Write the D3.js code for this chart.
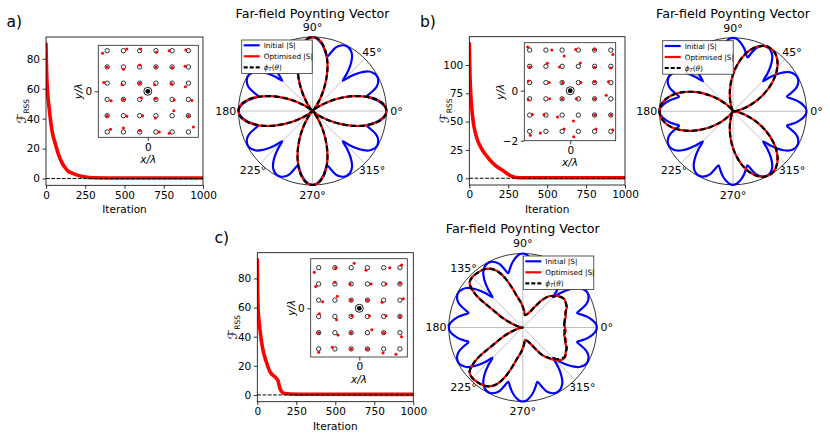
<!DOCTYPE html>
<html><head><meta charset="utf-8">
<script src="https://cdn.jsdelivr.net/npm/d3@7"></script>
<style>
body{margin:0;background:#fff;}
svg{display:block;font-family:"DejaVu Sans",sans-serif;}
</style></head>
<body><svg id="fig" width="830" height="436"></svg>
<script>
// ---------------- DATA ----------------
const xTicksLoss = [0,250,500,750,1000];
const yTicksA = [0,20,40,60,80];
const yTicksB = [0,25,50,75,100];
const yTicksC = [0,20,40,60,80];

const iterA = [0,2,5,10,20,30,40,60,80,100,120,140,170,200,250,300,400,1000];
const lossA = [90,80,68,58,47,38,31,23,16,11,7.5,5,3.5,2.3,1.0,0.5,0.4,0.4];
const iterB = [0,2,5,10,15,25,45,75,110,150,190,220,240,260,280,300,350,1000];
const lossB = [119,105,88,73,63,50,37,27,20,13.5,9,6.5,4.5,2.7,1.4,0.7,0.4,0.4];
const iterC = [0,2,5,10,17,25,38,60,81,100,113,125,132,138,145,156,177,250,1000];
const lossC = [93,75,60,52,45,38,30,22,16,13.5,12.5,11,10,7.5,4.5,2.3,1.0,0.5,0.4];

// lattice (x/λ, y/λ)
const latticeCoords = [-1.625,-0.975,-0.325,0.325,0.975,1.625];
const sourcePos = [0,0];
const optPosA = [[-1.81,1.52],[-0.84,1.69],[-0.29,1.69],[0.35,1.56],[0.855,1.625],[1.52,1.65],
 [-1.625,0.975],[-0.975,0.88],[-0.325,1.055],[0.325,0.975],[0.975,0.95],[1.49,1.0],
 [-1.76,0.35],[-1.03,0.26],[-0.325,0.325],[0.27,0.26],[0.95,0.30],[1.505,0.18],
 [-1.465,-0.38],[-0.975,-0.325],[-0.26,-0.26],[0.30,-0.30],[1.055,-0.35],[1.76,-0.365],
 [-1.625,-0.975],[-0.84,-1.0],[-0.205,-0.975],[0.30,-1.07],[1.04,-0.775],[1.625,-0.975],
 [-1.49,-1.52],[-0.975,-1.465],[-0.325,-1.57],[0.46,-1.625],[0.855,-1.675],[1.825,-1.425]];
const optPosB = [[-1.705,1.745],[-0.735,1.625],[-0.245,1.385],[0.22,1.65],[0.975,1.65],[1.705,1.45],
 [-1.625,0.95],[-0.92,1.095],[-0.43,0.95],[0.405,1.108],[0.975,0.935],[1.625,0.91],
 [-1.68,0.39],[-0.84,0.325],[-0.31,0.325],[0.42,0.325],[0.975,0.36],[1.53,0.36],
 [-1.68,-0.36],[-0.83,-0.325],[-0.325,-0.325],[0.245,-0.325],[0.975,-0.325],[1.44,-0.18],
 [-1.52,-0.95],[-1.055,-0.96],[-0.51,-1.055],[0.125,-1.215],[0.975,-0.975],[1.625,-0.975],
 [-1.60,-1.785],[-1.2,-1.69],[-0.245,-1.53],[0.14,-1.84],[1.03,-1.53],[1.705,-1.57]];
const optPosC = [[-1.80,1.44],[-0.95,1.625],[-0.205,1.80],[0.27,1.52],[1.215,1.625],[1.69,1.73],
 [-1.745,0.87],[-0.975,1.04],[-0.365,0.975],[0.47,0.975],[1.07,0.975],[1.625,1.0],
 [-1.465,0.26],[-0.88,0.485],[-0.325,0.325],[0.325,0.325],[0.91,0.245],[1.76,0.38],
 [-1.6,-0.22],[-0.91,-0.46],[-0.3,-0.3],[0.405,-0.3],[1.07,-0.3],[1.625,-0.325],
 [-1.625,-0.975],[-0.855,-1.07],[-0.325,-0.975],[0.5,-0.855],[0.975,-0.975],[1.69,-1.135],
 [-1.625,-1.76],[-1.08,-1.56],[-0.325,-1.625],[0.325,-1.625],[0.95,-1.785],[1.465,-1.84]];

// polar angle labels
const polarTickAngles = [0,45,90,135,180,225,270,315];
const polarTickLabels = ["0°","45°","90°","135°","180°","225°","270°","315°"];
const legendLabels = ["Initial |S|","Optimised |S|","phiT"];

// Initial |S| (normalised), every 2.5°
const initialS = [
1.00,0.99,0.96,0.92,0.87,0.81,0.76,0.83,0.91,0.955,0.98,0.99,0.985,0.965,0.93,0.87,0.79,0.69,0.58,0.69,0.79,0.87,0.93,0.965,0.985,0.99,0.98,0.955,0.91,0.83,0.76,0.81,0.87,0.92,0.96,0.99,
1.00,0.99,0.96,0.92,0.87,0.81,0.76,0.83,0.91,0.955,0.98,0.99,0.985,0.965,0.93,0.87,0.79,0.69,0.58,0.69,0.79,0.87,0.93,0.965,0.985,0.99,0.98,0.955,0.91,0.83,0.76,0.81,0.87,0.92,0.96,0.99,
1.00,0.99,0.96,0.92,0.87,0.81,0.76,0.83,0.91,0.955,0.98,0.99,0.985,0.965,0.93,0.87,0.79,0.69,0.58,0.69,0.79,0.87,0.93,0.965,0.985,0.99,0.98,0.955,0.91,0.83,0.76,0.81,0.87,0.92,0.96,0.99,
1.00,0.99,0.96,0.92,0.87,0.81,0.76,0.83,0.91,0.955,0.98,0.99,0.985,0.965,0.93,0.87,0.79,0.69,0.58,0.69,0.79,0.87,0.93,0.965,0.985,0.99,0.98,0.955,0.91,0.83,0.76,0.81,0.87,0.92,0.96,0.99];

// targets & optimised, every 5°
const targetA = [
1,0.97,0.883,0.75,0.587,0.413,0.25,0.117,0.03,0,0.03,0.117,0.25,0.413,0.587,0.75,0.883,0.97,
1,0.97,0.883,0.75,0.587,0.413,0.25,0.117,0.03,0,0.03,0.117,0.25,0.413,0.587,0.75,0.883,0.97,
1,0.97,0.883,0.75,0.587,0.413,0.25,0.117,0.03,0,0.03,0.117,0.25,0.413,0.587,0.75,0.883,0.97,
1,0.97,0.883,0.75,0.587,0.413,0.25,0.117,0.03,0,0.03,0.117,0.25,0.413,0.587,0.75,0.883,0.97];
const optA = [
1,0.97,0.885,0.75,0.585,0.415,0.25,0.115,0.03,0,0.03,0.118,0.25,0.41,0.59,0.75,0.88,0.97,
0.995,0.97,0.885,0.752,0.587,0.413,0.248,0.117,0.03,0,0.03,0.117,0.25,0.413,0.587,0.75,0.885,0.972,
1,0.97,0.883,0.75,0.588,0.413,0.25,0.117,0.031,0,0.03,0.117,0.25,0.413,0.587,0.75,0.883,0.97,
0.998,0.97,0.883,0.75,0.587,0.413,0.25,0.117,0.03,0,0.03,0.116,0.25,0.413,0.587,0.75,0.883,0.97];
const targetB = [
0,0.017,0.067,0.146,0.25,0.371,0.5,0.629,0.75,0.854,0.933,0.983,1,0.983,0.933,0.854,0.75,0.629,
0.5,0.371,0.25,0.146,0.067,0.017,0,0.017,0.067,0.146,0.25,0.371,0.5,0.629,0.75,0.854,0.933,0.983,
1,0.983,0.933,0.854,0.75,0.629,0.5,0.371,0.25,0.146,0.067,0.017,0,0.017,0.067,0.146,0.25,0.371,
0.5,0.629,0.75,0.854,0.933,0.983,1,0.983,0.933,0.854,0.75,0.629,0.5,0.371,0.25,0.146,0.067,0.017];
const optB = [
0,0.018,0.067,0.146,0.25,0.37,0.5,0.63,0.75,0.855,0.933,0.983,0.995,0.983,0.933,0.854,0.75,0.629,
0.5,0.371,0.25,0.146,0.066,0.017,0,0.017,0.067,0.146,0.25,0.371,0.5,0.629,0.752,0.854,0.933,0.983,
1,0.983,0.933,0.854,0.75,0.629,0.5,0.371,0.25,0.146,0.067,0.017,0,0.017,0.067,0.146,0.25,0.371,
0.5,0.629,0.75,0.854,0.933,0.983,0.998,0.983,0.933,0.854,0.75,0.629,0.5,0.371,0.25,0.146,0.067,0.017];
const targetC = [
0.56,0.565,0.575,0.59,0.62,0.65,0.67,0.675,0.65,0.6,0.55,0.45,0.32,0.24,0.2,0.18,0.17,0.22,
0.28,0.35,0.42,0.55,0.72,0.85,0.92,0.95,0.96,0.965,0.94,0.78,0.45,0.29,0.16,0.08,0.04,0.01,
0,0.01,0.04,0.08,0.16,0.29,0.45,0.78,0.94,0.965,0.96,0.95,0.92,0.85,0.72,0.55,0.42,0.35,
0.28,0.22,0.17,0.18,0.2,0.24,0.32,0.45,0.53,0.6,0.66,0.69,0.67,0.65,0.62,0.59,0.575,0.565];
const optC = [
0.57,0.56,0.58,0.6,0.61,0.66,0.67,0.68,0.65,0.61,0.55,0.45,0.32,0.24,0.2,0.18,0.17,0.22,
0.28,0.35,0.42,0.55,0.72,0.85,0.92,0.95,0.96,0.965,0.94,0.78,0.45,0.29,0.16,0.08,0.04,0.01,
0,0.01,0.04,0.08,0.16,0.29,0.45,0.78,0.94,0.965,0.96,0.95,0.92,0.85,0.72,0.55,0.42,0.35,
0.28,0.22,0.17,0.18,0.2,0.24,0.32,0.45,0.54,0.62,0.68,0.7,0.67,0.66,0.61,0.6,0.565,0.58];

// ---------------- DRAWING ----------------
const svg = d3.select('#fig');
const FONT = 'DejaVu Sans';
const fmtInt = d3.format('d');

function styleAxis(sel, fs){
  sel.attr('font-family', FONT).attr('font-size', fs);
  sel.select('.domain').remove();
  sel.selectAll('.tick line').attr('stroke','#000').attr('stroke-width',0.8);
  sel.selectAll('.tick text').attr('fill','#000');
}

let clipId = 0;
function lossPanel(box, iters, loss, yTicks, yDom){
  const g = svg.append('g');
  const x = d3.scaleLinear().domain([0,1000]).range([box.l, box.r]);
  const y = d3.scaleLinear().domain(yDom).range([box.b, box.t]);
  const cid = 'clip'+(clipId++);
  svg.append('clipPath').attr('id',cid).append('rect')
    .attr('x',box.l).attr('y',box.t).attr('width',box.r-box.l).attr('height',box.b-box.t);
  const pts = d3.zip(iters, loss);
  g.append('path').datum(pts)
    .attr('d', d3.line().x(d=>x(d[0])).y(d=>y(d[1])).curve(d3.curveMonotoneX))
    .attr('fill','none').attr('stroke','#ff0000').attr('stroke-width',3.6)
    .attr('stroke-linejoin','round').attr('stroke-linecap','round')
    .attr('clip-path',`url(#${cid})`);
  g.append('line').attr('x1',x(0)).attr('x2',x(1000)).attr('y1',y(0)).attr('y2',y(0))
    .attr('stroke','#000').attr('stroke-width',1).attr('stroke-dasharray','3.7,1.6');
  g.append('g').attr('transform',`translate(0,${box.b})`)
    .call(d3.axisBottom(x).tickValues(xTicksLoss).tickFormat(fmtInt).tickSize(3.5).tickPadding(2.5))
    .call(s=>styleAxis(s,10.5));
  g.append('g').attr('transform',`translate(${box.l},0)`)
    .call(d3.axisLeft(y).tickValues(yTicks).tickFormat(fmtInt).tickSize(3.5).tickPadding(2.5))
    .call(s=>styleAxis(s,10.5));
  g.append('rect').attr('x',box.l).attr('y',box.t).attr('width',box.r-box.l).attr('height',box.b-box.t)
    .attr('fill','none').attr('stroke','#000').attr('stroke-width',0.8);
  g.append('text').attr('x',(box.l+box.r)/2).attr('y',box.b+28).attr('text-anchor','middle')
    .attr('font-size',10.5).attr('font-family',FONT).text('Iteration');
  const lab = g.append('text').attr('transform',`translate(${box.l-20},${(box.t+box.b)/2}) rotate(-90)`)
    .attr('text-anchor','middle').attr('font-family',FONT);
  lab.append('tspan').attr('font-size',12.5).attr('font-style','italic').text('ℱ');
  lab.append('tspan').attr('font-size',7.5).attr('dy',2.5).text('RSS');
  return g;
}

function insetPanel(box, xDom, yDom, yTickVals, opt){
  const g = svg.append('g');
  const x = d3.scaleLinear().domain(xDom).range([box.l, box.r]);
  const y = d3.scaleLinear().domain(yDom).range([box.b, box.t]);
  g.append('rect').attr('x',box.l).attr('y',box.t).attr('width',box.r-box.l).attr('height',box.b-box.t)
    .attr('fill','#fff');
  const lattice = [];
  latticeCoords.slice().reverse().forEach(yy=>latticeCoords.forEach(xx=>lattice.push([xx,yy])));
  g.selectAll('circle.lat').data(lattice).enter().append('circle').attr('class','lat')
    .attr('cx',d=>x(d[0])).attr('cy',d=>y(d[1])).attr('r',2.2)
    .attr('fill','none').attr('stroke','#000').attr('stroke-width',0.8);
  g.selectAll('circle.opt').data(opt).enter().append('circle').attr('class','opt')
    .attr('cx',d=>x(d[0])).attr('cy',d=>y(d[1])).attr('r',1.5).attr('fill','#ff0000');
  g.append('circle').attr('cx',x(sourcePos[0])).attr('cy',y(sourcePos[1])).attr('r',4)
    .attr('fill','none').attr('stroke','#000').attr('stroke-width',0.9);
  g.append('circle').attr('cx',x(sourcePos[0])).attr('cy',y(sourcePos[1])).attr('r',2.4).attr('fill','#000');
  g.append('g').attr('transform',`translate(0,${box.b})`)
    .call(d3.axisBottom(x).tickValues([0]).tickFormat(fmtInt).tickSize(3.5).tickPadding(2.5))
    .call(s=>styleAxis(s,10.5));
  g.append('g').attr('transform',`translate(${box.l},0)`)
    .call(d3.axisLeft(y).tickValues(yTickVals).tickFormat(fmtInt).tickSize(3.5).tickPadding(2.5))
    .call(s=>styleAxis(s,10.5));
  g.append('rect').attr('x',box.l).attr('y',box.t).attr('width',box.r-box.l).attr('height',box.b-box.t)
    .attr('fill','none').attr('stroke','#222').attr('stroke-width',0.8);
  g.append('text').attr('x',(box.l+box.r)/2).attr('y',box.b+25.5).attr('text-anchor','middle')
    .attr('font-size',10.5).attr('font-family',FONT).attr('font-style','italic').text('x/λ');
  g.append('text').attr('transform',`translate(${box.l-box.ylab},${(box.t+box.b)/2}) rotate(-90)`)
    .attr('text-anchor','middle').attr('font-size',10.5).attr('font-family',FONT)
    .attr('font-style','italic').text('y/λ');
}

function polarPanel(c, blue, red, black, leg, title, hidden){
  const g = svg.append('g').attr('transform',`translate(${c.cx},${c.cy})`);
  const rS = d3.scaleLinear().domain([0,1]).range([0,c.R]);
  const toRad = d=>d*Math.PI/180;
  polarTickAngles.forEach((a,i)=>{
    if(hidden.includes(a)) return; // covered by the legend in the reference
    g.append('text').attr('x',(c.R+10)*Math.cos(toRad(a))).attr('y',-(c.R+10)*Math.sin(toRad(a)))
      .attr('text-anchor','middle').attr('dy','0.36em').attr('font-size',11).attr('font-family',FONT)
      .text(polarTickLabels[i]);
  });
  g.append('circle').attr('r',c.R).attr('fill','#fff');
  polarTickAngles.forEach(a=>{
    g.append('line').attr('x1',0).attr('y1',0)
      .attr('x2',rS(1)*Math.cos(toRad(a))).attr('y2',-rS(1)*Math.sin(toRad(a)))
      .attr('stroke','#b0b0b0').attr('stroke-width',0.8);
  });
  g.append('circle').attr('r',c.R).attr('fill','none').attr('stroke','#000').attr('stroke-width',0.8);
  const radial = step => d3.lineRadial()
    .angle((d,i)=>Math.PI/2 - toRad(i*step))
    .radius(d=>rS(d)).curve(d3.curveCatmullRomClosed.alpha(0.5));
  g.append('path').attr('d', radial(2.5)(blue)).attr('fill','none').attr('stroke','#0000ff').attr('stroke-width',2.2);
  g.append('path').attr('d', radial(5)(red)).attr('fill','none').attr('stroke','#ff0000').attr('stroke-width',2.2);
  g.append('path').attr('d', radial(5)(black)).attr('fill','none').attr('stroke','#000').attr('stroke-width',2.2)
    .attr('stroke-dasharray','5.5,3');
  svg.append('text').attr('x',c.cx).attr('y',title).attr('text-anchor','middle')
    .attr('font-size',12.7).attr('font-family',FONT).text('Far-field Poynting Vector');
  // legend
  const lg = svg.append('g').attr('transform',`translate(${leg.x},${leg.y})`);
  lg.append('rect').attr('width',70.5).attr('height',33.5).attr('fill','#fff')
    .attr('stroke','#333').attr('stroke-width',0.8);
  const cols = ['#0000ff','#ff0000','#000'];
  [0,1,2].forEach(i=>{
    const yy = 5.3 + i*11;
    lg.append('line').attr('x1',2).attr('x2',18).attr('y1',yy).attr('y2',yy)
      .attr('stroke',cols[i]).attr('stroke-width',2.2)
      .attr('stroke-dasharray', i===2 ? '4,2' : null);
    const t = lg.append('text').attr('x',22).attr('y',yy).attr('dy','0.35em')
      .attr('font-size',7.3).attr('font-family',FONT);
    if(i<2) t.text(legendLabels[i]);
    else {
      t.append('tspan').attr('font-style','italic').text('ϕ');
      t.append('tspan').attr('font-size',5.2).attr('dy',1.5).attr('font-style','italic').text('T');
      t.append('tspan').attr('dy',-1.5).text('(');
      t.append('tspan').attr('font-style','italic').text('θ');
      t.append('tspan').text(')');
    }
  });
}

// panel a
lossPanel({l:46,r:203,t:37,b:185.3}, iterA, lossA, yTicksA, [-4.5,94.5]);
insetPanel({l:98.3,r:198.3,t:45.3,b:137.3,ylab:16}, [-1.98,2.02], [-1.84,1.84], [0], optPosA);
polarPanel({cx:312.5,cy:111,R:74}, initialS, optA, targetA, {x:241.7,y:40}, 17.5, [135]);
// panel b
lossPanel({l:469.3,r:625,t:36.7,b:185}, iterB, lossB, yTicksB, [-5.95,124.95]);
insetPanel({l:524.3,r:615.7,t:42.7,b:140.7,ylab:20}, [-1.84,1.82], [-2.0,1.92], [0,-2], optPosB);
polarPanel({cx:733,cy:111.3,R:73.5}, initialS, optB, targetB, {x:662.7,y:40.7}, 17.5, [135]);
// panel c
lossPanel({l:257.3,r:413.3,t:252.7,b:401.7}, iterC, lossC, yTicksC, [-4.65,97.65]);
insetPanel({l:310.7,r:407.3,t:258.7,b:357,ylab:16}, [-1.944,1.92], [-1.948,1.984], [0], optPosC);
polarPanel({cx:522.8,cy:327.5,R:74}, initialS, optC, targetC, {x:523.3,y:256}, 233, [45]);

// panel letters
[['a)',6.5,27],['b)',420,27],['c)',214.5,243]].forEach(p=>{
  svg.append('text').attr('x',p[1]).attr('y',p[2]).attr('font-size',15.5).attr('font-family',FONT).text(p[0]);
});
</script></body></html>
